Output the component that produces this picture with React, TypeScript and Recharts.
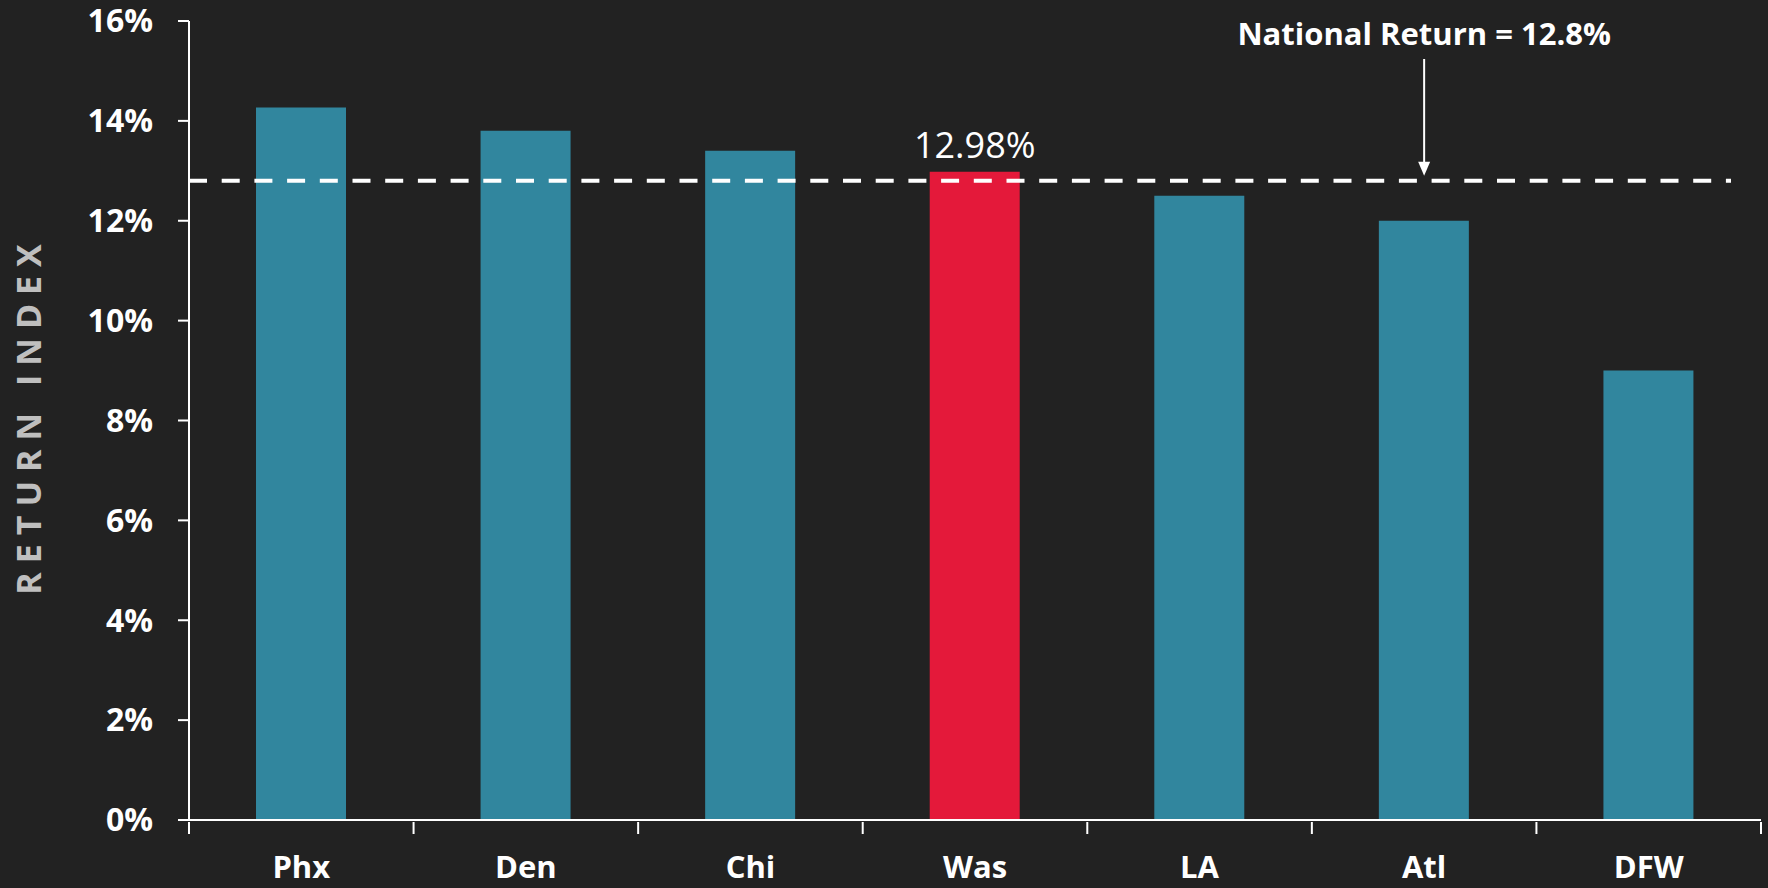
import { Bar, BarChart, Cell, LabelList, ReferenceLine, XAxis, YAxis } from "recharts";

const cities = ["Phx", "Den", "Chi", "Was", "LA", "Atl", "DFW"];
const returns = [14.27, 13.8, 13.4, 12.98, 12.5, 12.0, 9.0];
const yTicks = [0, 2, 4, 6, 8, 10, 12, 14, 16];
const nationalReturn = 12.8;
const highlightCity = "Was";
const annotationCity = "Atl";

const data = cities.map((city, i) => ({
  city,
  value: returns[i],
  note: city === highlightCity ? `${returns[i].toFixed(2)}%` : undefined,
}));

const FONT = "'Open Sans', 'Liberation Sans', sans-serif";
const TEAL = "#31869e";
const RED = "#e4193a";
const BG = "#222222";

const W = 1768;
const H = 888;
const M = { top: 21, right: 7, bottom: 0, left: 0 };
const Y_W = 189;
const HALF_BAND = (W - M.left - M.right - Y_W) / cities.length / 2;

// category label at the band centre, tick marks on the band edges
function CityTick(p: any) {
  const { x, y, payload, index } = p;
  const last = index === cities.length - 1;
  return (
    <g>
      <line x1={x - HALF_BAND} y1={y} x2={x - HALF_BAND} y2={y + 12} stroke="#ffffff" strokeWidth={2} />
      {last && (
        <line x1={x + HALF_BAND} y1={y} x2={x + HALF_BAND} y2={y + 12} stroke="#ffffff" strokeWidth={2} />
      )}
      <text
        x={x}
        y={y + 34}
        dy="0.71em"
        textAnchor="middle"
        fill="#ffffff"
        fontSize={31}
        fontWeight={700}
        fontFamily={FONT}
      >
        {payload.value}
      </text>
    </g>
  );
}

export default function App() {
  return (
    <div style={{ position: "fixed", left: 0, top: 0, width: W, height: H, background: BG }}>
      <BarChart width={W} height={H} data={data} margin={M}>
        <XAxis
          dataKey="city"
          height={68}
          axisLine={{ stroke: "#ffffff", strokeWidth: 2 }}
          tickLine={false}
          tickSize={0}
          interval={0}
          tick={<CityTick />}
        />
        <YAxis
          width={Y_W}
          domain={[0, 16]}
          ticks={yTicks}
          tickFormatter={(v) => `${v}%`}
          tickSize={11}
          tickMargin={25}
          axisLine={{ stroke: "#ffffff", strokeWidth: 2 }}
          tickLine={{ stroke: "#ffffff", strokeWidth: 2 }}
          tick={{ fill: "#ffffff", fontSize: 32, fontWeight: 700, fontFamily: FONT }}
          label={{
            content: () => (
              <text
                x={28}
                y={415}
                transform="rotate(-90 28 415)"
                textAnchor="middle"
                dominantBaseline="central"
                fill="#bfbfbf"
                fontSize={34}
                fontWeight={700}
                fontFamily={FONT}
                letterSpacing={9}
              >
                RETURN INDEX
              </text>
            ),
          }}
        />
        <Bar dataKey="value" barSize={90} isAnimationActive={false}>
          {data.map((d) => (
            <Cell key={d.city} fill={d.city === highlightCity ? RED : TEAL} />
          ))}
          <LabelList
            dataKey="note"
            content={(p: any) =>
              p.value ? (
                <text
                  x={p.x + p.width / 2}
                  y={p.y - 14}
                  textAnchor="middle"
                  fill="#ffffff"
                  fontSize={36}
                  fontFamily={FONT}
                >
                  {p.value}
                </text>
              ) : null
            }
          />
        </Bar>
        <ReferenceLine
          y={nationalReturn}
          shape={(p: any) => (
            <line
              x1={p.x1}
              y1={p.y1}
              x2={p.x2 - 30}
              y2={p.y2}
              stroke="#ffffff"
              strokeWidth={4}
              strokeDasharray="18 14.7"
            />
          )}
        />
        <ReferenceLine
          segment={[
            { x: annotationCity, y: nationalReturn },
            { x: annotationCity, y: 16 },
          ]}
          shape={(p: any) => {
            const x = p.x1;
            const tip = p.y1 - 5;
            const top = p.y2 + 38;
            return (
              <g>
                <line x1={x} y1={top} x2={x} y2={tip - 12} stroke="#ffffff" strokeWidth={2} />
                <path d={`M${x - 6},${tip - 14} L${x + 6},${tip - 14} L${x},${tip} Z`} fill="#ffffff" />
                <text
                  x={x}
                  y={p.y2 + 24}
                  textAnchor="middle"
                  fill="#ffffff"
                  fontSize={31}
                  fontWeight={700}
                  fontFamily={FONT}
                >
                  National Return = {nationalReturn}%
                </text>
              </g>
            );
          }}
        />
      </BarChart>
    </div>
  );
}
